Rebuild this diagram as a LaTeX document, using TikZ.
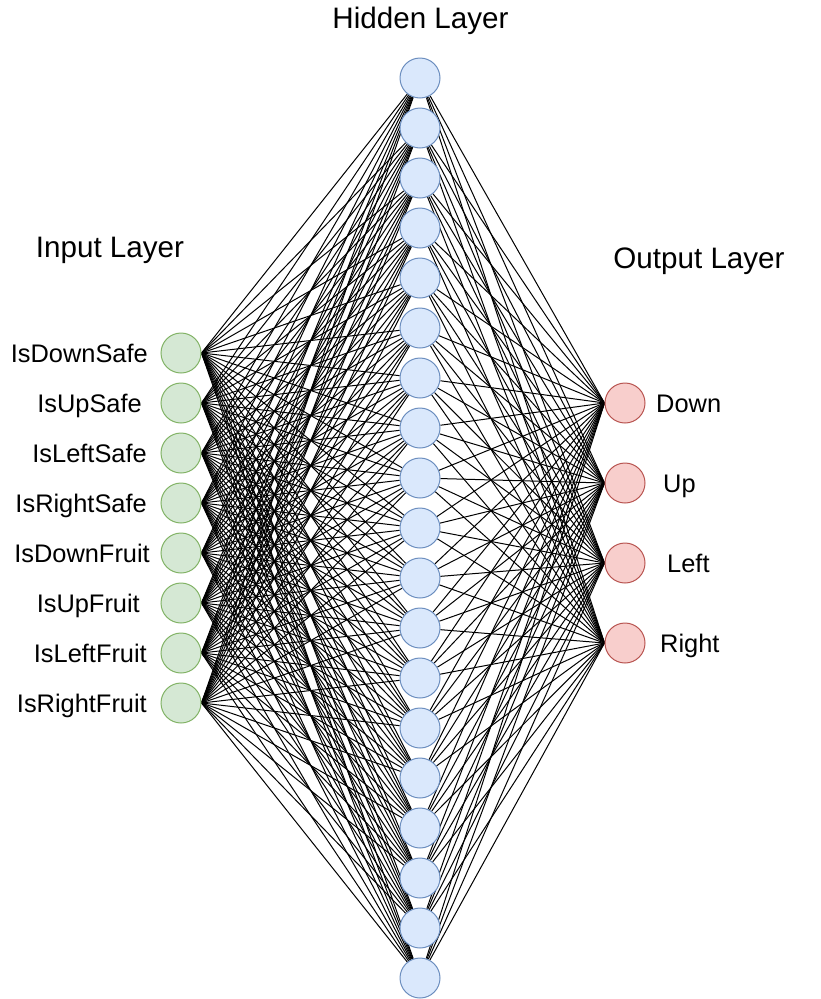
\documentclass[tikz,border=0pt]{standalone}
\usepackage{fontspec}
\setmainfont{Liberation Sans}
\pgfdeclarelayer{background}
\pgfsetlayers{background,main}
\definecolor{infill}{HTML}{D5E8D4}
\definecolor{indraw}{HTML}{82B366}
\definecolor{hidfill}{HTML}{DAE8FC}
\definecolor{hiddraw}{HTML}{6C8EBF}
\definecolor{outfill}{HTML}{F8CECC}
\definecolor{outdraw}{HTML}{B85450}
\tikzset{
  neuron/.style={circle, minimum size=40pt, inner sep=0pt, line width=1pt},
  inneuron/.style={neuron, fill=infill, draw=indraw},
  hidneuron/.style={neuron, fill=hidfill, draw=hiddraw},
  outneuron/.style={neuron, fill=outfill, draw=outdraw},
  lbl/.style={inner sep=0pt, font=\fontsize{25.4}{30}\selectfont},
  ttl/.style={inner sep=0pt, anchor=base, font=\fontsize{29.6}{34}\selectfont},
  conn/.style={line width=1pt, black}
}
\begin{document}
\begin{tikzpicture}[x=1pt,y=-1pt]
\useasboundingbox (0,0) rectangle (821,999);
% titles
\node[ttl] (tin) at (110,257) {Input Layer};
\node[ttl] (thid) at (420.5,28) {Hidden Layer};
\node[ttl] (tout) at (699,268) {Output Layer};
% input layer
\foreach \i in {1,...,8} {
  \node[inneuron] (i\i) at (181,{303+50*\i}) {};
}
% hidden layer
\foreach \h in {1,...,19} {
  \node[hidneuron] (h\h) at (420,{28+50*\h}) {};
}
% output layer
\foreach \o in {1,...,4} {
  \node[outneuron] (o\o) at (625,{323+80*\o}) {};
}
% input labels
\node[lbl, anchor=base east] (l1) at (148,362) {IsDownSafe};
\node[lbl, anchor=base east] (l2) at (142,412) {IsUpSafe};
\node[lbl, anchor=base east] (l3) at (147,462) {IsLeftSafe};
\node[lbl, anchor=base east] (l4) at (147,512) {IsRightSafe};
\node[lbl, anchor=base east] (l5) at (150,562) {IsDownFruit};
\node[lbl, anchor=base east] (l6) at (140,612) {IsUpFruit};
\node[lbl, anchor=base east] (l7) at (147,662) {IsLeftFruit};
\node[lbl, anchor=base east] (l8) at (147,712) {IsRightFruit};
% output labels
\node[lbl, anchor=base west] (m1) at (656,412) {Down};
\node[lbl, anchor=base west] (m2) at (663,492) {Up};
\node[lbl, anchor=base west] (m3) at (667,572) {Left};
\node[lbl, anchor=base west] (m4) at (660,652) {Right};
% connections
\begin{pgfonlayer}{background}
\foreach \i in {1,...,8} {
  \foreach \h in {1,...,19} {
    \draw[conn] (i\i.east) -- (h\h);
  }
}
\foreach \h in {1,...,19} {
  \foreach \o in {1,...,4} {
    \draw[conn] (h\h) -- (o\o.west);
  }
}
\end{pgfonlayer}
\end{tikzpicture}
\end{document}
